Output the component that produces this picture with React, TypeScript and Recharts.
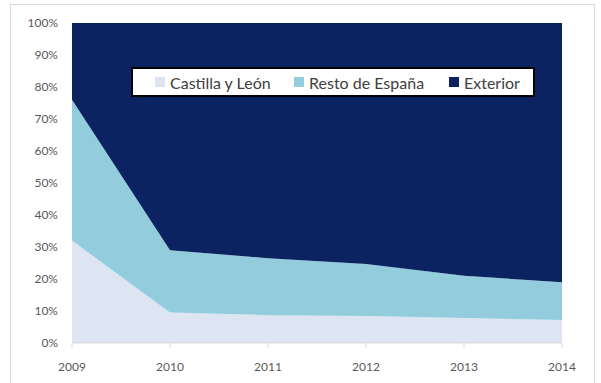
import { Area, AreaChart, XAxis, YAxis } from "recharts";

const years = ["2009", "2010", "2011", "2012", "2013", "2014"];
const castillaLeon = [32, 9.5, 8.7, 8.4, 7.8, 7.2];
const restoEspana = [44, 19.5, 17.8, 16.3, 13.2, 11.8];
const exterior = [24, 71, 73.5, 75.3, 79, 81];

const seriesNames = ["Castilla y León", "Resto de España", "Exterior"];
const seriesColors = ["#dce5f1", "#93cddd", "#0b2360"];
const yTicks = [0, 0.1, 0.2, 0.3, 0.4, 0.5, 0.6, 0.7, 0.8, 0.9, 1];

const data = years.map((year, i) => ({
  year,
  cyl: castillaLeon[i],
  resto: restoEspana[i],
  ext: exterior[i],
}));

const FONT = "Lato, 'Open Sans', sans-serif";
// left offset of each legend marker inside the box
const legendOffsets = [22, 161, 316];

function LegendBox() {
  return (
    <div
      style={{
        position: "absolute",
        left: 131,
        top: 67,
        boxSizing: "border-box",
        width: 404,
        height: 30,
        background: "#ffffff",
        border: "2px solid #000000",
        fontFamily: FONT,
        fontSize: 16,
        color: "#404040",
      }}
    >
      {seriesNames.map((name, i) => (
        <div
          key={name}
          style={{
            position: "absolute",
            left: legendOffsets[i],
            top: 0,
            height: 26,
            display: "flex",
            alignItems: "center",
            whiteSpace: "nowrap",
          }}
        >
          <span
            style={{
              display: "inline-block",
              width: 10,
              height: 10,
              background: seriesColors[i],
              marginRight: 5,
            }}
          />
          <span>{name}</span>
        </div>
      ))}
    </div>
  );
}

export default function App() {
  return (
    <div
      style={{
        position: "absolute",
        left: 0,
        top: 0,
        width: 601,
        height: 383,
        background: "#ffffff",
        overflow: "hidden",
      }}
    >
      <div
        style={{
          position: "absolute",
          left: 10,
          top: 4,
          width: 583,
          height: 400,
          border: "1px solid #d9d9d9",
        }}
      />
      <AreaChart
        width={601}
        height={383}
        data={data}
        stackOffset="expand"
        margin={{ top: 23, right: 39, bottom: 0, left: 12 }}
      >
        <XAxis
          dataKey="year"
          axisLine={{ stroke: "#d9d9d9" }}
          tickLine={{ stroke: "#d9d9d9" }}
          tickSize={5}
          tickMargin={14}
          height={40}
          tick={{ fill: "#595959", fontSize: 12, fontFamily: FONT }}
          interval={0}
        />
        <YAxis
          width={60}
          ticks={yTicks}
          domain={[0, 1]}
          axisLine={false}
          tickLine={false}
          tickMargin={8}
          tickFormatter={(v: number) => `${Math.round(v * 100)}%`}
          tick={{ fill: "#595959", fontSize: 12, fontFamily: FONT }}
        />
        <Area
          type="linear"
          dataKey="cyl"
          name={seriesNames[0]}
          stackId="1"
          stroke="none"
          fill={seriesColors[0]}
          fillOpacity={1}
          isAnimationActive={false}
        />
        <Area
          type="linear"
          dataKey="resto"
          name={seriesNames[1]}
          stackId="1"
          stroke="none"
          fill={seriesColors[1]}
          fillOpacity={1}
          isAnimationActive={false}
        />
        <Area
          type="linear"
          dataKey="ext"
          name={seriesNames[2]}
          stackId="1"
          stroke="none"
          fill={seriesColors[2]}
          fillOpacity={1}
          isAnimationActive={false}
        />
      </AreaChart>
      <LegendBox />
    </div>
  );
}
